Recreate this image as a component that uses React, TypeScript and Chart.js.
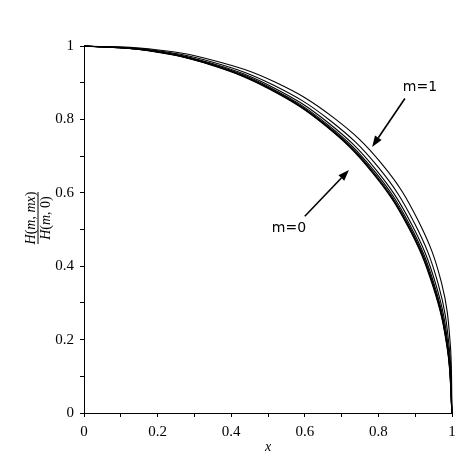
import React, { useEffect, useRef } from "react";
import { Chart, registerables } from "chart.js";

Chart.register(...registerables);

// Curves, from m=0 (innermost) to m=1 (outermost)
const X_M0 = [0, 0.1741, 0.3451, 0.5083, 0.6565, 0.7824, 0.8803, 0.9482, 0.9874, 1];
const Y_M0 = [1, 0.9874, 0.9482, 0.8803, 0.7824, 0.6565, 0.5083, 0.3451, 0.1741, 0];

const X_M1 = [0, 0.1741, 0.3453, 0.5088, 0.6573, 0.7834, 0.8814, 0.9492, 0.9878, 1];
const Y_M1 = [1, 0.9876, 0.9488, 0.8812, 0.7833, 0.6574, 0.5089, 0.3455, 0.1742, 0];

const X_M2 = [0, 0.1742, 0.3456, 0.5095, 0.6585, 0.785, 0.8831, 0.9506, 0.9883, 1];
const Y_M2 = [1, 0.9879, 0.9496, 0.8824, 0.7847, 0.6587, 0.5099, 0.346, 0.1743, 0];

const X_M3 = [0, 0.1743, 0.3461, 0.5107, 0.6605, 0.7877, 0.8859, 0.9529, 0.9891, 1];
const Y_M3 = [1, 0.9884, 0.9509, 0.8845, 0.7871, 0.661, 0.5115, 0.3468, 0.1744, 0];

const X_M4 = [0, 0.1744, 0.3468, 0.5126, 0.6637, 0.792, 0.8903, 0.9567, 0.9905, 1];
const Y_M4 = [1, 0.9891, 0.9529, 0.8878, 0.7909, 0.6646, 0.514, 0.3482, 0.1747, 0];

const X_M5 = [0, 0.1746, 0.3481, 0.5157, 0.6688, 0.799, 0.8975, 0.9628, 0.9929, 1];
const Y_M5 = [1, 0.9904, 0.9564, 0.8932, 0.7971, 0.6704, 0.5182, 0.3504, 0.1751, 0];

const X_M6 = [0, 0.175, 0.3499, 0.5203, 0.6764, 0.8092, 0.908, 0.9717, 0.9962, 1];
const Y_M6 = [1, 0.9923, 0.9614, 0.9011, 0.8061, 0.679, 0.5243, 0.3537, 0.1757, 0];

const CURVES_X = [X_M0, X_M1, X_M2, X_M3, X_M4, X_M5, X_M6];
const CURVES_Y = [Y_M0, Y_M1, Y_M2, Y_M3, Y_M4, Y_M5, Y_M6];

const LABELED_TICKS = ["0", "0.2", "0.4", "0.6", "0.8", "1"];
const X_TITLE = "x";
const ANNOTATION_TEXTS = ["m=1", "m=0"];
// annotation anchors in data units: [text x, text y, arrow start x, y, arrow tip x, y]
const ANNOT_M1 = [0.913, 0.886, 0.872, 0.857, 0.783, 0.725];
const ANNOT_M0 = [0.557, 0.504, 0.6, 0.536, 0.72, 0.662];

const SERIF = "'Liberation Serif', 'Times New Roman', serif";
const SANS = "'DejaVu Sans', Verdana, sans-serif";

function tickLabel(v: number): string {
  const k = Math.round(v * 10);
  if (k % 2 !== 0) return "";
  return LABELED_TICKS[k / 2] ?? "";
}

function drawArrow(ctx: CanvasRenderingContext2D, x0: number, y0: number, x1: number, y1: number) {
  const ang = Math.atan2(y1 - y0, x1 - x0);
  const len = 11;
  const hw = 4;
  const bx = x1 - len * Math.cos(ang);
  const by = y1 - len * Math.sin(ang);
  ctx.beginPath();
  ctx.moveTo(x0, y0);
  ctx.lineTo(bx, by);
  ctx.lineWidth = 1.6;
  ctx.strokeStyle = "#000";
  ctx.stroke();
  ctx.beginPath();
  ctx.moveTo(x1, y1);
  ctx.lineTo(bx - hw * Math.sin(ang), by + hw * Math.cos(ang));
  ctx.lineTo(bx + hw * Math.sin(ang), by - hw * Math.cos(ang));
  ctx.closePath();
  ctx.fillStyle = "#000";
  ctx.fill();
}

function drawRich(ctx: CanvasRenderingContext2D, parts: [string, boolean][], cx: number, y: number) {
  const fontFor = (it: boolean) => (it ? `italic 14px ${SERIF}` : `14px ${SERIF}`);
  let total = 0;
  for (const [t, it] of parts) {
    ctx.font = fontFor(it);
    total += ctx.measureText(t).width;
  }
  let x = cx - total / 2;
  for (const [t, it] of parts) {
    ctx.font = fontFor(it);
    ctx.fillText(t, x, y);
    x += ctx.measureText(t).width;
  }
}

const decorPlugin = {
  id: "decor",
  afterDraw(chart: any) {
    const ctx: CanvasRenderingContext2D = chart.ctx;
    const xs = chart.scales.x;
    const ys = chart.scales.y;
    ctx.save();
    ctx.fillStyle = "#000";
    ctx.font = `italic 14px ${SERIF}`;
    ctx.textAlign = "center";
    ctx.textBaseline = "alphabetic";
    ctx.fillText(X_TITLE, (chart.chartArea.left + chart.chartArea.right) / 2, 451);

    // y title (fraction), rotated
    ctx.save();
    ctx.translate(37.5, 218);
    ctx.rotate(-Math.PI / 2);
    ctx.textAlign = "left";
    drawRich(
      ctx,
      [["H", true], ["(", false], ["m", true], [", ", false], ["mx", true], [")", false]],
      0,
      -3
    );
    drawRich(ctx, [["H", true], ["(", false], ["m", true], [", 0", false], [")", false]], 0, 12);
    ctx.beginPath();
    ctx.moveTo(-26, 0.5);
    ctx.lineTo(26, 0.5);
    ctx.lineWidth = 1;
    ctx.strokeStyle = "#000";
    ctx.stroke();
    ctx.restore();

    const annots = [ANNOT_M1, ANNOT_M0];
    ctx.font = `14px ${SANS}`;
    ctx.textAlign = "center";
    ctx.textBaseline = "middle";
    annots.forEach((a, i) => {
      ctx.fillStyle = "#000";
      ctx.fillText(ANNOTATION_TEXTS[i], xs.getPixelForValue(a[0]), ys.getPixelForValue(a[1]));
      drawArrow(
        ctx,
        xs.getPixelForValue(a[2]),
        ys.getPixelForValue(a[3]),
        xs.getPixelForValue(a[4]),
        ys.getPixelForValue(a[5])
      );
    });
    ctx.restore();
  },
};

export default function App() {
  const ref = useRef<HTMLCanvasElement | null>(null);
  useEffect(() => {
    if (!ref.current) return;
    const datasets = CURVES_X.map((xsArr, k) => ({
      data: xsArr.map((x, i) => ({ x, y: CURVES_Y[k][i] })),
      showLine: true,
      borderColor: "#000",
      borderWidth: 1.1,
      pointRadius: 0,
      tension: 0.4,
      fill: false,
      clip: 6,
    }));
    const axisCommon = {
      type: "linear" as const,
      min: 0,
      max: 1,
      grid: {
        drawOnChartArea: false,
        drawTicks: true,
        tickLength: 4,
        color: "#000",
        tickColor: "#000",
        lineWidth: 1,
      },
      border: { display: true, color: "#000", width: 1 },
      ticks: {
        stepSize: 0.1,
        autoSkip: false,
        maxRotation: 0,
        padding: 6,
        color: "#000",
        font: { family: SERIF, size: 15 },
        callback: (v: any) => tickLabel(Number(v)),
      },
    };
    const chart = new Chart(ref.current, {
      type: "scatter",
      data: { datasets },
      options: {
        responsive: false,
        animation: false,
        devicePixelRatio: 1,
        layout: { padding: { top: 46, right: 11, left: 0, bottom: 0 } },
        plugins: { legend: { display: false }, tooltip: { enabled: false } },
        scales: {
          x: {
            ...axisCommon,
            afterFit: (s: any) => {
              s.height = 50;
            },
          },
          y: {
            ...axisCommon,
            afterFit: (s: any) => {
              s.width = 84;
            },
          },
        },
      },
      plugins: [decorPlugin],
    } as any);
    return () => chart.destroy();
  }, []);
  return (
    <div style={{ position: "absolute", left: 0, top: 0, width: 463, height: 463, background: "#fff" }}>
      <canvas ref={ref} width={463} height={463} style={{ width: 463, height: 463 }} />
    </div>
  );
}
